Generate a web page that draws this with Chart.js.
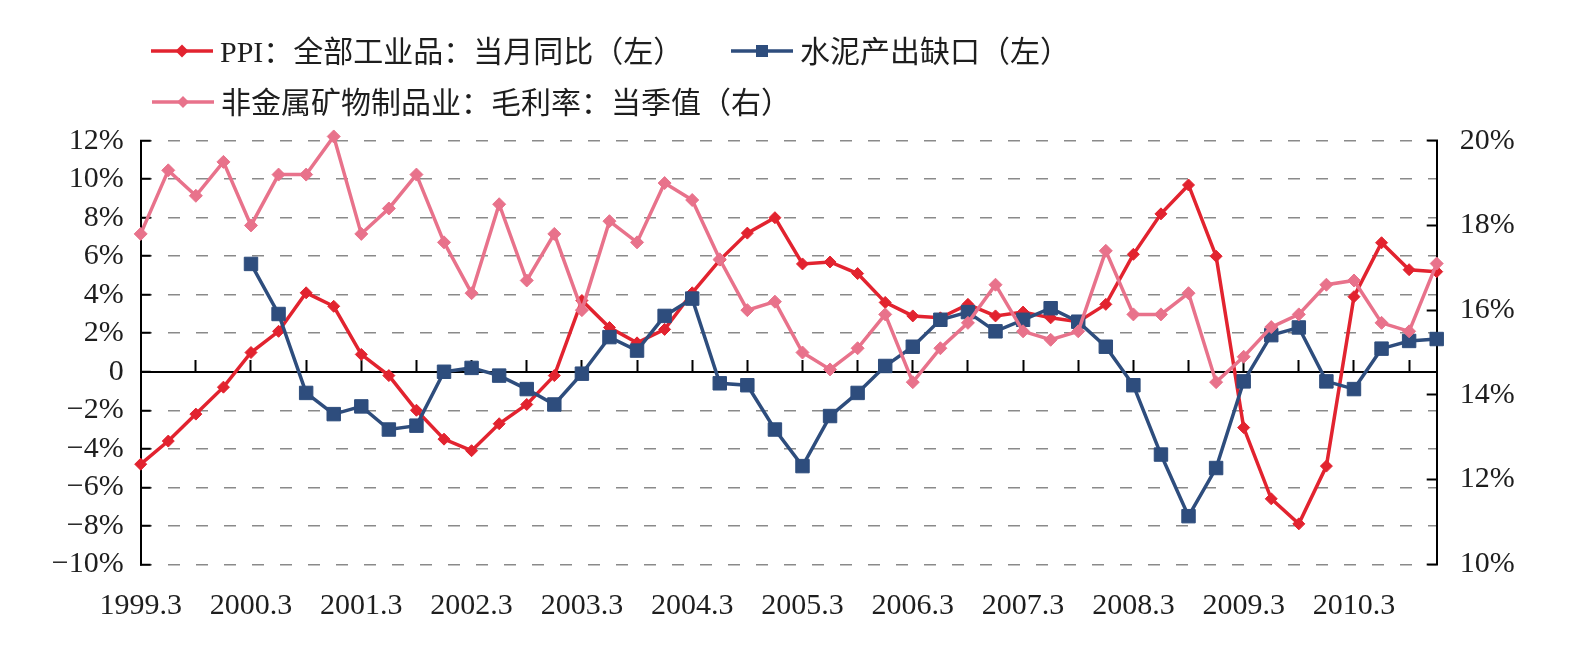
<!DOCTYPE html>
<html>
<head>
<meta charset="utf-8">
<script src="https://cdn.jsdelivr.net/npm/chart.js@4/dist/chart.umd.min.js"></script>
<style>
  body { margin: 0; background: #fff; }
  #wrap { position: relative; width: 1586px; height: 649px; }
  #legend .txt {
    position: absolute; white-space: nowrap; height: 40px; line-height: 40px;
    font-family: 'Liberation Serif', 'Noto Sans CJK SC', serif; font-size: 30px; color: #1e1e1e;
  }
  #legend svg { position: absolute; }
</style>
</head>
<body>
<div id="wrap">
  <canvas id="myChart" width="1586" height="649"></canvas>
  <div id="legend"></div>
</div>
<script>
// quarterly categories (month of quarter end)
const quarters = [
  '1999.3','1999.6','1999.9','1999.12','2000.3','2000.6','2000.9','2000.12',
  '2001.3','2001.6','2001.9','2001.12','2002.3','2002.6','2002.9','2002.12',
  '2003.3','2003.6','2003.9','2003.12','2004.3','2004.6','2004.9','2004.12',
  '2005.3','2005.6','2005.9','2005.12','2006.3','2006.6','2006.9','2006.12',
  '2007.3','2007.6','2007.9','2007.12','2008.3','2008.6','2008.9','2008.12',
  '2009.3','2009.6','2009.9','2009.12','2010.3','2010.6','2010.9','2010.12'
];

// PPI：全部工业品：当月同比 (%, left)
const ppi = [-4.8,-3.6,-2.2,-0.8,1.0,2.1,4.1,3.4, 0.9,-0.2,-2.0,-3.5,-4.1,-2.7,-1.7,-0.2,
  3.7,2.3,1.5,2.2,4.1,5.8,7.2,8.0, 5.6,5.7,5.1,3.6,2.9,2.8,3.5,2.9,
  3.1,2.8,2.6,3.5,6.1,8.2,9.7,6.0, -2.9,-6.6,-7.9,-4.9,3.9,6.7,5.3,5.2];

// 水泥产出缺口 (%, left)
const cementGap = [null,null,null,null,5.6,3.0,-1.1,-2.2, -1.8,-3.0,-2.8,0.0,0.2,-0.2,-0.9,-1.7,
  -0.1,1.8,1.1,2.9,3.8,-0.6,-0.7,-3.0, -4.9,-2.3,-1.1,0.3,1.3,2.7,3.1,2.1,
  2.7,3.3,2.6,1.3,-0.7,-4.3,-7.5,-5.0, -0.5,1.9,2.3,-0.5,-0.9,1.2,1.6,1.7];

// 非金属矿物制品业：毛利率：当季值 (%, right)
const grossMargin = [17.8,19.3,18.7,19.5,18.0,19.2,19.2,20.1, 17.8,18.4,19.2,17.6,16.4,18.5,16.7,17.8,
  16.0,18.1,17.6,19.0,18.6,17.2,16.0,16.2, 15.0,14.6,15.1,15.9,14.3,15.1,15.7,16.6,
  15.5,15.3,15.5,17.4,15.9,15.9,16.4,14.3, 14.9,15.6,15.9,16.6,16.7,15.7,15.5,17.1];

const leftTicks = { min: -10, max: 12, step: 2 };
const rightTicks = { min: 10, max: 20, step: 2 };

const RED = '#E2232F';
const BLUE = '#2E4D7D';
const PINK = '#E8728B';
const TEXT = '#1e1e1e';
const tickFont = { family: "'Liberation Serif', 'Times New Roman', serif", size: 30 };

const fmtLeft = (v) => v === 0 ? '0' : (v < 0 ? '\u2212' + Math.abs(v) : v) + '%';

let myChart;

const setup = () => {
  const ctxt = document.getElementById('myChart').getContext('2d');

  myChart = new Chart(ctxt, {
    type: 'line',
    data: {
      labels: quarters,
      datasets: [
        {
          label: 'PPI：全部工业品：当月同比（左）',
          data: ppi,
          yAxisID: 'y',
          borderColor: RED, backgroundColor: RED,
          borderWidth: 3.5, pointStyle: 'rectRot', pointRadius: 6, pointBorderWidth: 1,
          tension: 0, clip: false, order: 3
        },
        {
          label: '水泥产出缺口（左）',
          data: cementGap,
          yAxisID: 'y',
          borderColor: BLUE, backgroundColor: BLUE,
          borderWidth: 3.5, pointStyle: 'rect', pointRadius: 9.5, pointBorderWidth: 1,
          tension: 0, clip: false, order: 2
        },
        {
          label: '非金属矿物制品业：毛利率：当季值（右）',
          data: grossMargin,
          yAxisID: 'y1',
          borderColor: PINK, backgroundColor: PINK,
          borderWidth: 3.5, pointStyle: 'rectRot', pointRadius: 6.5, pointBorderWidth: 1,
          tension: 0, clip: false, order: 1
        }
      ]
    },
    options: {
      responsive: false,
      animation: false,
      layout: { padding: { top: 140.7, left: 0, right: 0, bottom: 0 } },
      plugins: { legend: { display: false }, tooltip: { enabled: false } },
      scales: {
        x: {
          position: 'bottom',
          offset: false,
          grid: { display: false, drawTicks: false },
          border: { display: false },
          ticks: {
            autoSkip: false, maxRotation: 0, minRotation: 0, padding: 24,
            font: tickFont, color: TEXT,
            callback: (val, i) => i % 4 === 0 ? quarters[i] : ''
          },
          afterFit: (s) => { s.height = 84.7; }
        },
        // zero line with small upward tick marks every two quarters
        x2: {
          type: 'category',
          position: { y: 0 },
          offset: false,
          grid: {
            drawOnChartArea: false, drawTicks: true, tickLength: -13, tickWidth: 2,
            color: (c) => (c.index > 0 && c.index % 2 === 0) ? '#000' : 'rgba(0,0,0,0)'
          },
          border: { display: true, color: '#000', width: 2 },
          ticks: { display: false, autoSkip: false }
        },
        y: {
          position: 'left',
          min: leftTicks.min, max: leftTicks.max,
          ticks: { stepSize: leftTicks.step, autoSkip: false, padding: 27, font: tickFont, color: TEXT, callback: fmtLeft },
          grid: { color: '#8a8a8a', lineWidth: 1.5, tickColor: '#000', tickWidth: 2, tickLength: -10 },
          border: { display: true, color: '#000', width: 2, dash: [12, 16], dashOffset: 2 },
          afterFit: (s) => { s.width = 140.7; }
        },
        y1: {
          position: 'right',
          min: rightTicks.min, max: rightTicks.max,
          ticks: { stepSize: rightTicks.step, autoSkip: false, padding: 33, font: tickFont, color: TEXT, callback: (v) => v + '%' },
          grid: { drawOnChartArea: false, tickColor: '#000', tickWidth: 2, tickLength: -10 },
          border: { display: true, color: '#000', width: 2 },
          afterFit: (s) => { s.width = 149.3; }
        }
      }
    }
  });

  buildLegend();
}

// legend: line with marker in the middle, then the label
function buildLegend() {
  const spots = [ { x: 151, y: 51 }, { x: 731, y: 51 }, { x: 152, y: 102 } ];
  const box = document.getElementById('legend');
  myChart.data.datasets.forEach((ds, i) => {
    const p = spots[i];
    const c = ds.borderColor;
    let mark;
    if (ds.pointStyle === 'rect') {
      mark = `<rect x="25" y="4" width="12" height="12" fill="${c}"/>`;
    } else {
      const r = i === 0 ? 6.5 : 6;
      mark = `<polygon points="${31 - r},10 31,${10 - r} ${31 + r},10 31,${10 + r}" fill="${c}"/>`;
    }
    const svg = `<svg width="62" height="20" style="left:${p.x}px;top:${p.y - 10}px">` +
      `<line x1="0" y1="10" x2="62" y2="10" stroke="${c}" stroke-width="3.5"/>${mark}</svg>`;
    box.insertAdjacentHTML('beforeend', svg +
      `<div class="txt" style="left:${p.x + 69}px;top:${p.y - 19}px">${ds.label}</div>`);
  });
}

window.addEventListener('DOMContentLoaded', setup);
</script>
</body>
</html>
